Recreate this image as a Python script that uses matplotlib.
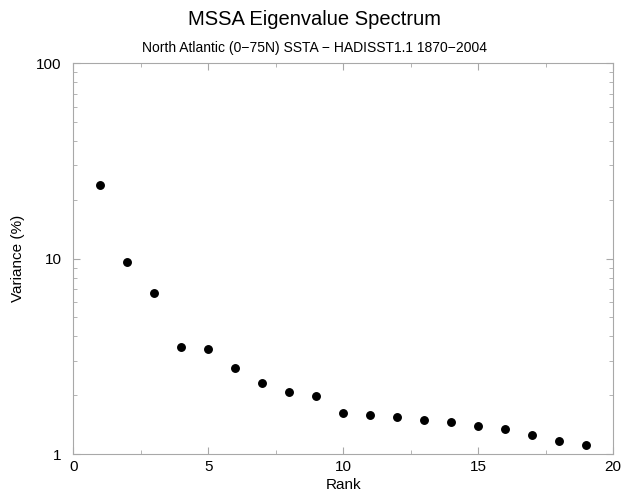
import matplotlib
matplotlib.use("Agg")
import matplotlib.pyplot as plt
from matplotlib.ticker import FixedLocator, LogLocator, NullFormatter, FixedFormatter

plt.rcParams['font.family'] = ['Liberation Sans', 'DejaVu Sans']

# MSSA eigenvalue spectrum: percent variance by rank
rank = list(range(1, 20))
variance = [23.9, 9.63, 6.68, 3.54, 3.44, 2.75, 2.30, 2.08, 1.99,
            1.63, 1.59, 1.54, 1.50, 1.45, 1.39, 1.35, 1.25, 1.16, 1.11]

x_ticks = [0, 5, 10, 15, 20]
y_ticks = [1, 10, 100]
y_tick_labels = ["1", "10", "100"]

frame = "#a8a8a8"

fig = plt.figure(figsize=(6.29, 4.92), dpi=100)
ax = fig.add_axes([0.1166, 0.0772, 0.8580, 0.7941])

ax.plot(rank, variance, linestyle="none", marker="o", markersize=5.4,
        color="black")

ax.set_xlim(0, 20)
ax.set_yscale("log")
ax.set_ylim(1, 100)

ax.xaxis.set_major_locator(FixedLocator(x_ticks))
ax.xaxis.set_minor_locator(FixedLocator([2.5, 7.5, 12.5, 17.5]))
ax.yaxis.set_major_locator(FixedLocator(y_ticks))
ax.yaxis.set_major_formatter(FixedFormatter(y_tick_labels))
ax.yaxis.set_minor_locator(LogLocator(base=10, subs=range(2, 10)))
ax.yaxis.set_minor_formatter(NullFormatter())

for s in ax.spines.values():
    s.set_color(frame)
    s.set_linewidth(0.8)

ax.tick_params(which="both", direction="in", top=True, right=True,
               color=frame, labelsize=11, labelcolor="black")
ax.tick_params(which="major", length=5, width=0.8)
ax.tick_params(which="minor", length=3, width=0.6)
ax.tick_params(axis="x", which="major", pad=4.5)
ax.tick_params(axis="y", which="major", pad=8.3)

ax.set_xlabel("Rank", fontsize=11, labelpad=2.5)
ax.set_ylabel("Variance (%)", fontsize=11, labelpad=8.3)

fig.text(0.5, 0.9492, "MSSA Eigenvalue Spectrum", ha="center", va="baseline",
         fontsize=14.5)
fig.text(0.5, 0.8937, "North Atlantic (0\u221275N) SSTA \u2212 HADISST1.1 1870\u22122004",
         ha="center", va="baseline", fontsize=10)

fig.savefig("out.png", dpi=100, facecolor="white")
